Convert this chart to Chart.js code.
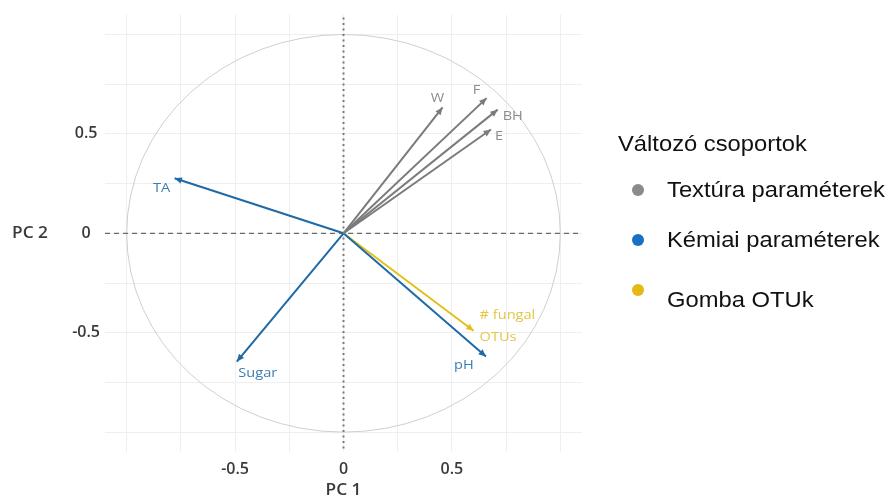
<!DOCTYPE html>
<html>
<head>
<meta charset="utf-8">
<title>PCA – változók korrelációs köre</title>
<script src="https://cdn.jsdelivr.net/npm/chart.js@4.4.1/dist/chart.umd.min.js"></script>
<style>
  html, body { margin: 0; padding: 0; background: #ffffff; }
  #wrap { width: 891px; height: 499px; position: relative; }
  canvas { display: block; }
</style>
</head>
<body>
<div id="wrap"><canvas id="pca" width="891" height="499"></canvas></div>
<script>
// Variables and their loadings on the first two principal components
const variables = ['W', 'F', 'BH', 'E', 'TA', 'Sugar', 'pH', '# fungal OTUs'];
const pc1 = [0.457, 0.660, 0.711, 0.680, -0.779, -0.492, 0.657, 0.600];
const pc2 = [0.633, 0.680, 0.622, 0.522, 0.277, -0.645, -0.620, -0.490];
// group index of each variable
const groupOf = [0, 0, 0, 0, 1, 1, 1, 2];

// Variable groups (legend)
const legendTitle = 'Változó csoportok';
const groupNames = ['Textúra paraméterek', 'Kémiai paraméterek', 'Gomba OTUk'];

// Axis ticks
const gridValues = [-1, -0.75, -0.5, -0.25, 0, 0.25, 0.5, 0.75, 1];
const tickValues = [-0.5, 0, 0.5];
const tickLabels = ['-0.5', '0', '0.5'];
const xTitle = 'PC 1';
const yTitle = 'PC 2';

// ---- styling ----
const arrowColors = ['#7b7b7b', '#1f6aa6', '#e2c01c'];
const labelColors = ['#8c8c8c', '#3a7db7', '#e3c646'];
const legendDotColors = ['#8a8a8a', '#1b6fc2', '#e6b812'];
const textStretch = 1.08;
// label placement relative to each arrow tip (px): dx, dy, align
const labelPlace = [
  [-5, -9, 'center'],
  [-10, -8, 'center'],
  [5, 7, 'left'],
  [4, 7, 'left'],
  [-13, 10, 'center'],
  [21, 12, 'center'],
  [-22, 9, 'center'],
  [6, -16, 'left']
];

const datasets = variables.map((name, i) => ({
  label: name,
  data: [{ x: 0, y: 0 }, { x: pc1[i], y: pc2[i] }],
  showLine: true,
  borderColor: arrowColors[groupOf[i]],
  backgroundColor: arrowColors[groupOf[i]],
  borderWidth: 2,
  pointRadius: 0,
  pointHoverRadius: 0,
  order: groupOf[i] === 2 ? 1 : 0
}));

function tickText(v) {
  const k = tickValues.findIndex(t => Math.abs(t - v) < 1e-9);
  return k >= 0 ? tickLabels[k] : '';
}

// text drawn slightly widened horizontally
function wideText(ctx, str, px, py, align) {
  ctx.save();
  ctx.translate(px, py);
  ctx.scale(textStretch, 1);
  ctx.textAlign = align;
  ctx.fillText(str, 0, 0);
  ctx.restore();
}

const pcaPlugin = {
  id: 'pcaDecor',
  beforeDatasetsDraw(chart) {
    const { ctx, chartArea: a, scales: { x, y } } = chart;
    const cx = x.getPixelForValue(0), cy = y.getPixelForValue(0);
    const rx = x.getPixelForValue(1) - cx, ry = cy - y.getPixelForValue(1);
    ctx.save();
    // unit correlation circle
    ctx.strokeStyle = '#cfcfcf';
    ctx.lineWidth = 1;
    ctx.beginPath();
    ctx.ellipse(cx, cy, rx, ry, 0, 0, Math.PI * 2);
    ctx.stroke();
    // zero reference lines
    ctx.strokeStyle = '#6a6a6a';
    ctx.lineWidth = 1.2;
    ctx.setLineDash([5, 4]);
    ctx.beginPath();
    ctx.moveTo(a.left, cy);
    ctx.lineTo(a.right - 4, cy);
    ctx.stroke();
    ctx.strokeStyle = '#7a7a7a';
    ctx.lineWidth = 2;
    ctx.setLineDash([2, 3.5]);
    ctx.beginPath();
    ctx.moveTo(cx, a.top + 3);
    ctx.lineTo(cx, a.bottom);
    ctx.stroke();
    ctx.restore();
  },
  afterDatasetsDraw(chart) {
    const { ctx, scales: { x, y } } = chart;
    const cx = x.getPixelForValue(0), cy = y.getPixelForValue(0);
    ctx.save();
    variables.forEach((name, i) => {
      const tx = x.getPixelForValue(pc1[i]), ty = y.getPixelForValue(pc2[i]);
      const ang = Math.atan2(ty - cy, tx - cx);
      const len = 8, half = 0.42;
      ctx.fillStyle = arrowColors[groupOf[i]];
      ctx.beginPath();
      ctx.moveTo(tx, ty);
      ctx.lineTo(tx - len * Math.cos(ang - half), ty - len * Math.sin(ang - half));
      ctx.lineTo(tx - len * Math.cos(ang + half), ty - len * Math.sin(ang + half));
      ctx.closePath();
      ctx.fill();
      // variable label
      const [dx, dy, align] = labelPlace[i];
      ctx.fillStyle = labelColors[groupOf[i]];
      ctx.font = '13.5px "Open Sans", sans-serif';
      ctx.textBaseline = 'middle';
      if (name === '# fungal OTUs') {
        wideText(ctx, '# fungal', tx + dx, ty + dy, align);
        wideText(ctx, 'OTUs', tx + dx, ty + dy + 22, align);
      } else {
        wideText(ctx, name, tx + dx, ty + dy, align);
      }
    });
    ctx.restore();
  },
  afterDraw(chart) {
    const { ctx, scales: { x, y } } = chart;
    ctx.save();
    // axis titles
    ctx.fillStyle = '#3a3a3a';
    ctx.font = '600 16px "Open Sans", sans-serif';
    ctx.textBaseline = 'middle';
    wideText(ctx, xTitle, x.getPixelForValue(0), 490, 'center');
    wideText(ctx, yTitle, 30, y.getPixelForValue(0), 'center');
    // legend
    ctx.fillStyle = '#111111';
    ctx.font = '22px "Liberation Sans", Arial, sans-serif';
    wideText(ctx, legendTitle, 618, 145, 'left');
    const rowY = [191, 241, 301];
    const dotY = [190, 240, 290];
    groupNames.forEach((g, k) => {
      ctx.fillStyle = legendDotColors[k];
      ctx.beginPath();
      ctx.arc(638, dotY[k], 6, 0, Math.PI * 2);
      ctx.fill();
      ctx.fillStyle = '#111111';
      wideText(ctx, g, 667, rowY[k], 'left');
    });
    ctx.restore();
  }
};

const axisCommon = {
  type: 'linear',
  min: -1.1,
  max: 1.1,
  afterBuildTicks(scale) {
    scale.ticks = gridValues.map(v => ({ value: v }));
  },
  grid: {
    color: '#efefef',
    lineWidth: 1,
    drawTicks: false
  },
  border: { display: false },
  ticks: {
    autoSkip: false,
    maxRotation: 0,
    color: '#3a3a3a',
    font: { family: '"Open Sans", sans-serif', size: 16, weight: '600' },
    callback: v => tickText(v)
  }
};

new Chart(document.getElementById('pca'), {
  type: 'scatter',
  data: { datasets },
  options: {
    responsive: false,
    animation: false,
    devicePixelRatio: 1,
    layout: { padding: { left: 0, right: 309, top: 12, bottom: 0 } },
    plugins: {
      legend: { display: false },
      tooltip: { enabled: false }
    },
    scales: {
      x: Object.assign({}, axisCommon, {
        position: 'bottom',
        ticks: Object.assign({}, axisCommon.ticks, { padding: 8 }),
        afterFit(scale) { scale.height = 47; }
      }),
      y: Object.assign({}, axisCommon, {
        position: 'left',
        ticks: Object.assign({}, axisCommon.ticks, { padding: 5, crossAlign: 'center' }),
        afterFit(scale) { scale.width = 105; }
      })
    }
  },
  plugins: [pcaPlugin]
});
</script>
</body>
</html>
